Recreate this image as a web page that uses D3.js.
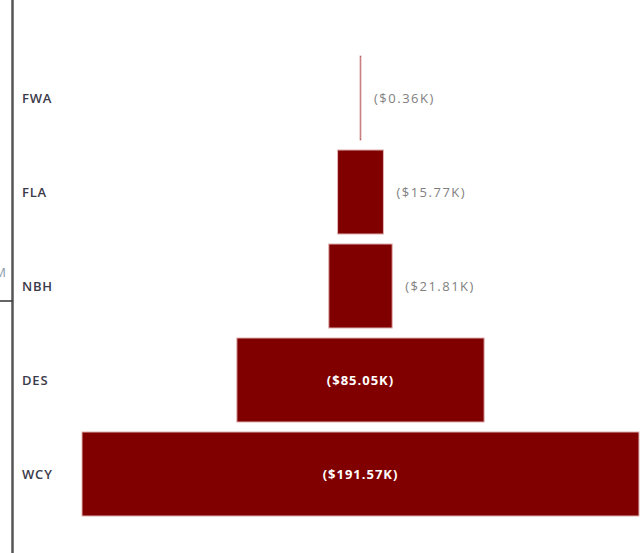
<!DOCTYPE html>
<html>
<head>
<meta charset="utf-8">
<script src="https://cdn.jsdelivr.net/npm/d3@7"></script>
<style>
  html, body { margin: 0; padding: 0; background: #fff; }
  svg { display: block; }
</style>
</head>
<body>
<svg id="chart" width="641" height="553"></svg>
<script>
// Funnel stages, top to bottom
const categories = ["FWA", "FLA", "NBH", "DES", "WCY"];
// Stage values in thousands of dollars
const values = [0.36, 15.77, 21.81, 85.05, 191.57];
const valueLabels = ["($0.36K)", "($15.77K)", "($21.81K)", "($85.05K)", "($191.57K)"];

const data = categories.map((c, i) => ({ cat: c, value: values[i], label: valueLabels[i] }));

const W = 641, H = 553;
const centerX = 360.5;
const maxWidth = 557;

const svg = d3.select("#chart");

const y = d3.scaleBand()
  .domain(categories)
  .range([51, 521])
  .paddingInner(0.106)
  .paddingOuter(0.053);

const w = d3.scaleLinear()
  .domain([0, d3.max(values)])
  .range([0, maxWidth]);

// Left axis line with a single tick
svg.append("line")
  .attr("x1", 12.5).attr("x2", 12.5)
  .attr("y1", 0).attr("y2", H)
  .attr("stroke", "#555").attr("stroke-width", 2.5);
svg.append("line")
  .attr("x1", 0).attr("x2", 12.5)
  .attr("y1", 301).attr("y2", 301)
  .attr("stroke", "#333").attr("stroke-width", 1.5);
svg.append("text")
  .attr("x", 6).attr("y", 277)
  .attr("text-anchor", "end")
  .attr("font-family", "'Open Sans', sans-serif")
  .attr("font-size", 13)
  .attr("fill", "#8a9aa8")
  .text("M");

// Funnel bars, centred horizontally
svg.selectAll("rect.bar")
  .data(data)
  .join("rect")
  .attr("class", "bar")
  .attr("x", d => centerX - w(d.value) / 2)
  .attr("y", d => y(d.cat))
  .attr("width", d => w(d.value))
  .attr("height", y.bandwidth())
  .attr("fill", "#800000")
  .attr("stroke", "#e2b4b4")
  .attr("stroke-width", 1);

// Category labels
svg.selectAll("text.cat")
  .data(data)
  .join("text")
  .attr("class", "cat")
  .attr("x", 22)
  .attr("y", d => y(d.cat) + y.bandwidth() / 2)
  .attr("dy", "0.35em")
  .attr("font-family", "'Open Sans', sans-serif")
  .attr("font-size", 13)
  .attr("font-weight", 600)
  .attr("letter-spacing", 0.8)
  .attr("fill", "#3a3a4a")
  .text(d => d.cat);

// Value labels: inside when the bar is wide enough, otherwise to the right
const inside = d => w(d.value) > 120;
svg.selectAll("text.val")
  .data(data)
  .join("text")
  .attr("class", "val")
  .attr("x", d => inside(d) ? centerX : centerX + w(d.value) / 2 + 13)
  .attr("y", d => y(d.cat) + y.bandwidth() / 2)
  .attr("dy", "0.35em")
  .attr("text-anchor", d => inside(d) ? "middle" : "start")
  .attr("font-family", "'Open Sans', sans-serif")
  .attr("font-size", 13)
  .attr("font-weight", d => inside(d) ? 700 : 500)
  .attr("letter-spacing", d => inside(d) ? 1 : 1.5)
  .attr("fill", d => inside(d) ? "#ffffff" : "#808080")
  .text(d => d.label);
</script>
</body>
</html>
